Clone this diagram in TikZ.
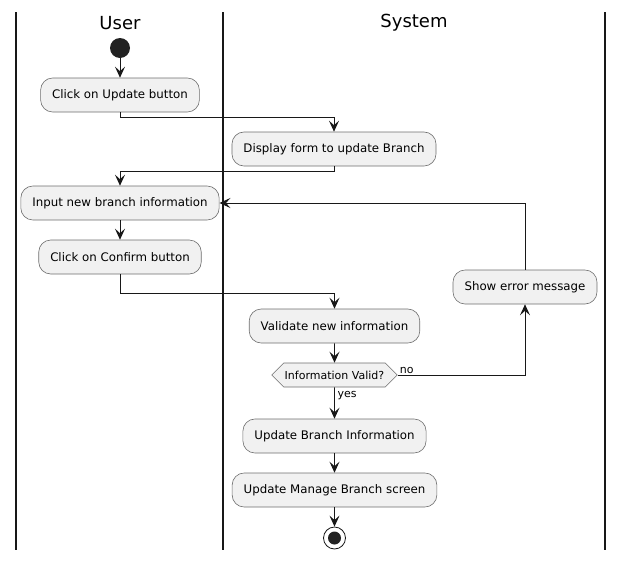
\documentclass[tikz,border=0pt]{standalone}
\usepackage{fontspec}
\setmainfont{DejaVu Sans}
\definecolor{Ink}{HTML}{181818}
\definecolor{Shade}{HTML}{F1F1F1}
\definecolor{Outline}{HTML}{6E6E6E}
\definecolor{Dot}{HTML}{222222}
\usetikzlibrary{arrows.meta,shapes.symbols}
\begin{document}
\begin{tikzpicture}[
  x=1pt,y=-1pt,
  font=\fontsize{11.8}{14}\selectfont,
  action/.style={rounded corners=12pt,draw=Outline,fill=Shade,line width=.6pt,
    minimum height=34pt,inner xsep=11.5pt},
  choice/.style={signal,signal to=west and east,signal pointer angle=90,
    draw=Outline,fill=Shade,line width=.6pt,minimum height=24pt,inner xsep=1pt,
    font=\fontsize{11}{13}\selectfont},
  lane/.style={line width=1.4pt,draw=Ink},
  title/.style={font=\fontsize{18}{20}\selectfont},
  flow/.style={-{Stealth[length=11pt,width=10pt,inset=4.5pt]},line width=.9pt,draw=Ink},
  tag/.style={font=\fontsize{11}{13}\selectfont,inner sep=1pt}
]
\useasboundingbox (0,0) rectangle (624,560);
% Swimlane borders and headings.
\draw[lane] (16,12) -- (16,550);
\draw[lane] (223,12) -- (223,550);
\draw[lane] (605,12) -- (605,550);
\node[title] (userlane) at (120,23) {User};
\node[title] (syslane) at (414,23) {System};

% Activities, placed at pixel coordinates of the lanes.
\node[circle,fill=Dot,minimum size=20pt,inner sep=0pt] (start) at (120,48) {};
\node[action] (clickupd) at (120,95) {Click on Update button};
\node[action] (showform) at (334,149) {Display form to update Branch};
\node[action] (input) at (120,203) {Input new branch information};
\node[action] (confirm) at (120,257) {Click on Confirm button};
\node[action] (error) at (525,287) {Show error message};
\node[action] (validate) at (334.5,326) {Validate new information};
\node[choice] (valid) at (334.5,375) {Information Valid?};
\node[action] (updinfo) at (334.5,436) {Update Branch Information};
\node[action] (updscreen) at (334.5,490) {Update Manage Branch screen};
\node[circle,draw=Ink,fill=white,line width=.8pt,minimum size=22pt,inner sep=0pt] (stop) at (334.5,538) {};
\fill[Dot] (stop.center) circle (6.5);

\draw[flow] (start) -- (clickupd);
\draw[flow] (clickupd.south) -- ++(0,5) -| (showform.north);
\draw[flow] (showform.south) -- ++(0,5) -| (input.north);
\draw[flow] (input) -- (confirm);
\draw[flow] (confirm.south) -- ++(0,19) -| (validate.north);
\draw[flow] (validate) -- (valid);
\draw[flow] (valid.east) -| (error.south);
\draw[flow] (error.north) |- (input.east);
\draw[flow] (valid) -- (updinfo);
\draw[flow] (updinfo) -- (updscreen);
\draw[flow] (updscreen) -- (stop);
\node[tag,anchor=south west] (nolbl) at ([xshift=1pt]valid.east) {no};
\node[tag,anchor=north west] (yeslbl) at ([xshift=2pt,yshift=-3pt]valid.south) {yes};
\end{tikzpicture}
\end{document}
